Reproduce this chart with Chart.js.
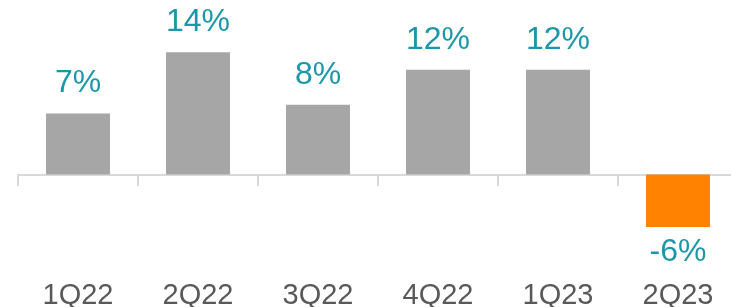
<!DOCTYPE html>
<html>
<head>
<meta charset="utf-8">
<script src="https://cdn.jsdelivr.net/npm/chart.js@4/dist/chart.umd.min.js"></script>
<style>
  html, body { margin: 0; padding: 0; background: #fff; overflow: hidden; }
  #wrap { position: relative; width: 740px; height: 317px; }
</style>
</head>
<body>
<div id="wrap"><canvas id="growth-chart"></canvas></div>
<script>
const quarters = ["1Q22", "2Q22", "3Q22", "4Q22", "1Q23", "2Q23"];
const growth = [7, 14, 8, 12, 12, -6];
const barColors = ["#a6a6a6", "#a6a6a6", "#a6a6a6", "#a6a6a6", "#a6a6a6", "#ff8300"];

const labelColor = "#1e96aa";
const fontFamily = "'Liberation Sans', Arial, sans-serif";

// value labels above / below each bar
const valueLabels = {
  id: "valueLabels",
  afterDatasetsDraw(chart) {
    const { ctx } = chart;
    const meta = chart.getDatasetMeta(0);
    ctx.save();
    ctx.font = `32px ${fontFamily}`;
    ctx.fillStyle = labelColor;
    ctx.textAlign = "center";
    ctx.textBaseline = "middle";
    meta.data.forEach((bar, i) => {
      const value = growth[i];
      const y = value >= 0 ? bar.y - 30 : bar.y + 25;
      ctx.fillText(`${value}%`, bar.x, y);
    });
    ctx.restore();
  },
};

new Chart(document.getElementById("growth-chart"), {
  type: "bar",
  data: {
    labels: quarters,
    datasets: [
      {
        data: growth,
        backgroundColor: barColors,
        borderWidth: 0,
        barPercentage: 0.533,
        categoryPercentage: 1,
      },
    ],
  },
  options: {
    responsive: true,
    maintainAspectRatio: false,
    animation: false,
    events: [],
    layout: {
      padding: { left: 18, right: 2, top: 0, bottom: 0 },
    },
    plugins: {
      legend: { display: false },
      tooltip: { enabled: false },
    },
    scales: {
      x: {
        position: "bottom",
        grid: { display: false },
        border: { display: false },
        ticks: {
          color: "#595959",
          font: { size: 29, family: fontFamily },
          padding: 4,
          maxRotation: 0,
          autoSkip: false,
        },
      },
      zeroAxis: {
        type: "category",
        axis: "x",
        labels: quarters,
        position: { y: 0 },
        offset: true,
        grid: {
          drawOnChartArea: false,
          drawTicks: true,
          tickLength: 10,
          color: "#d9d9d9",
          lineWidth: 2,
          offset: true,
        },
        border: { color: "#d9d9d9", width: 2 },
        ticks: { display: false },
      },
      y: {
        display: false,
        min: -10.5,
        max: 20,
      },
    },
  },
  plugins: [valueLabels],
});
</script>
</body>
</html>
